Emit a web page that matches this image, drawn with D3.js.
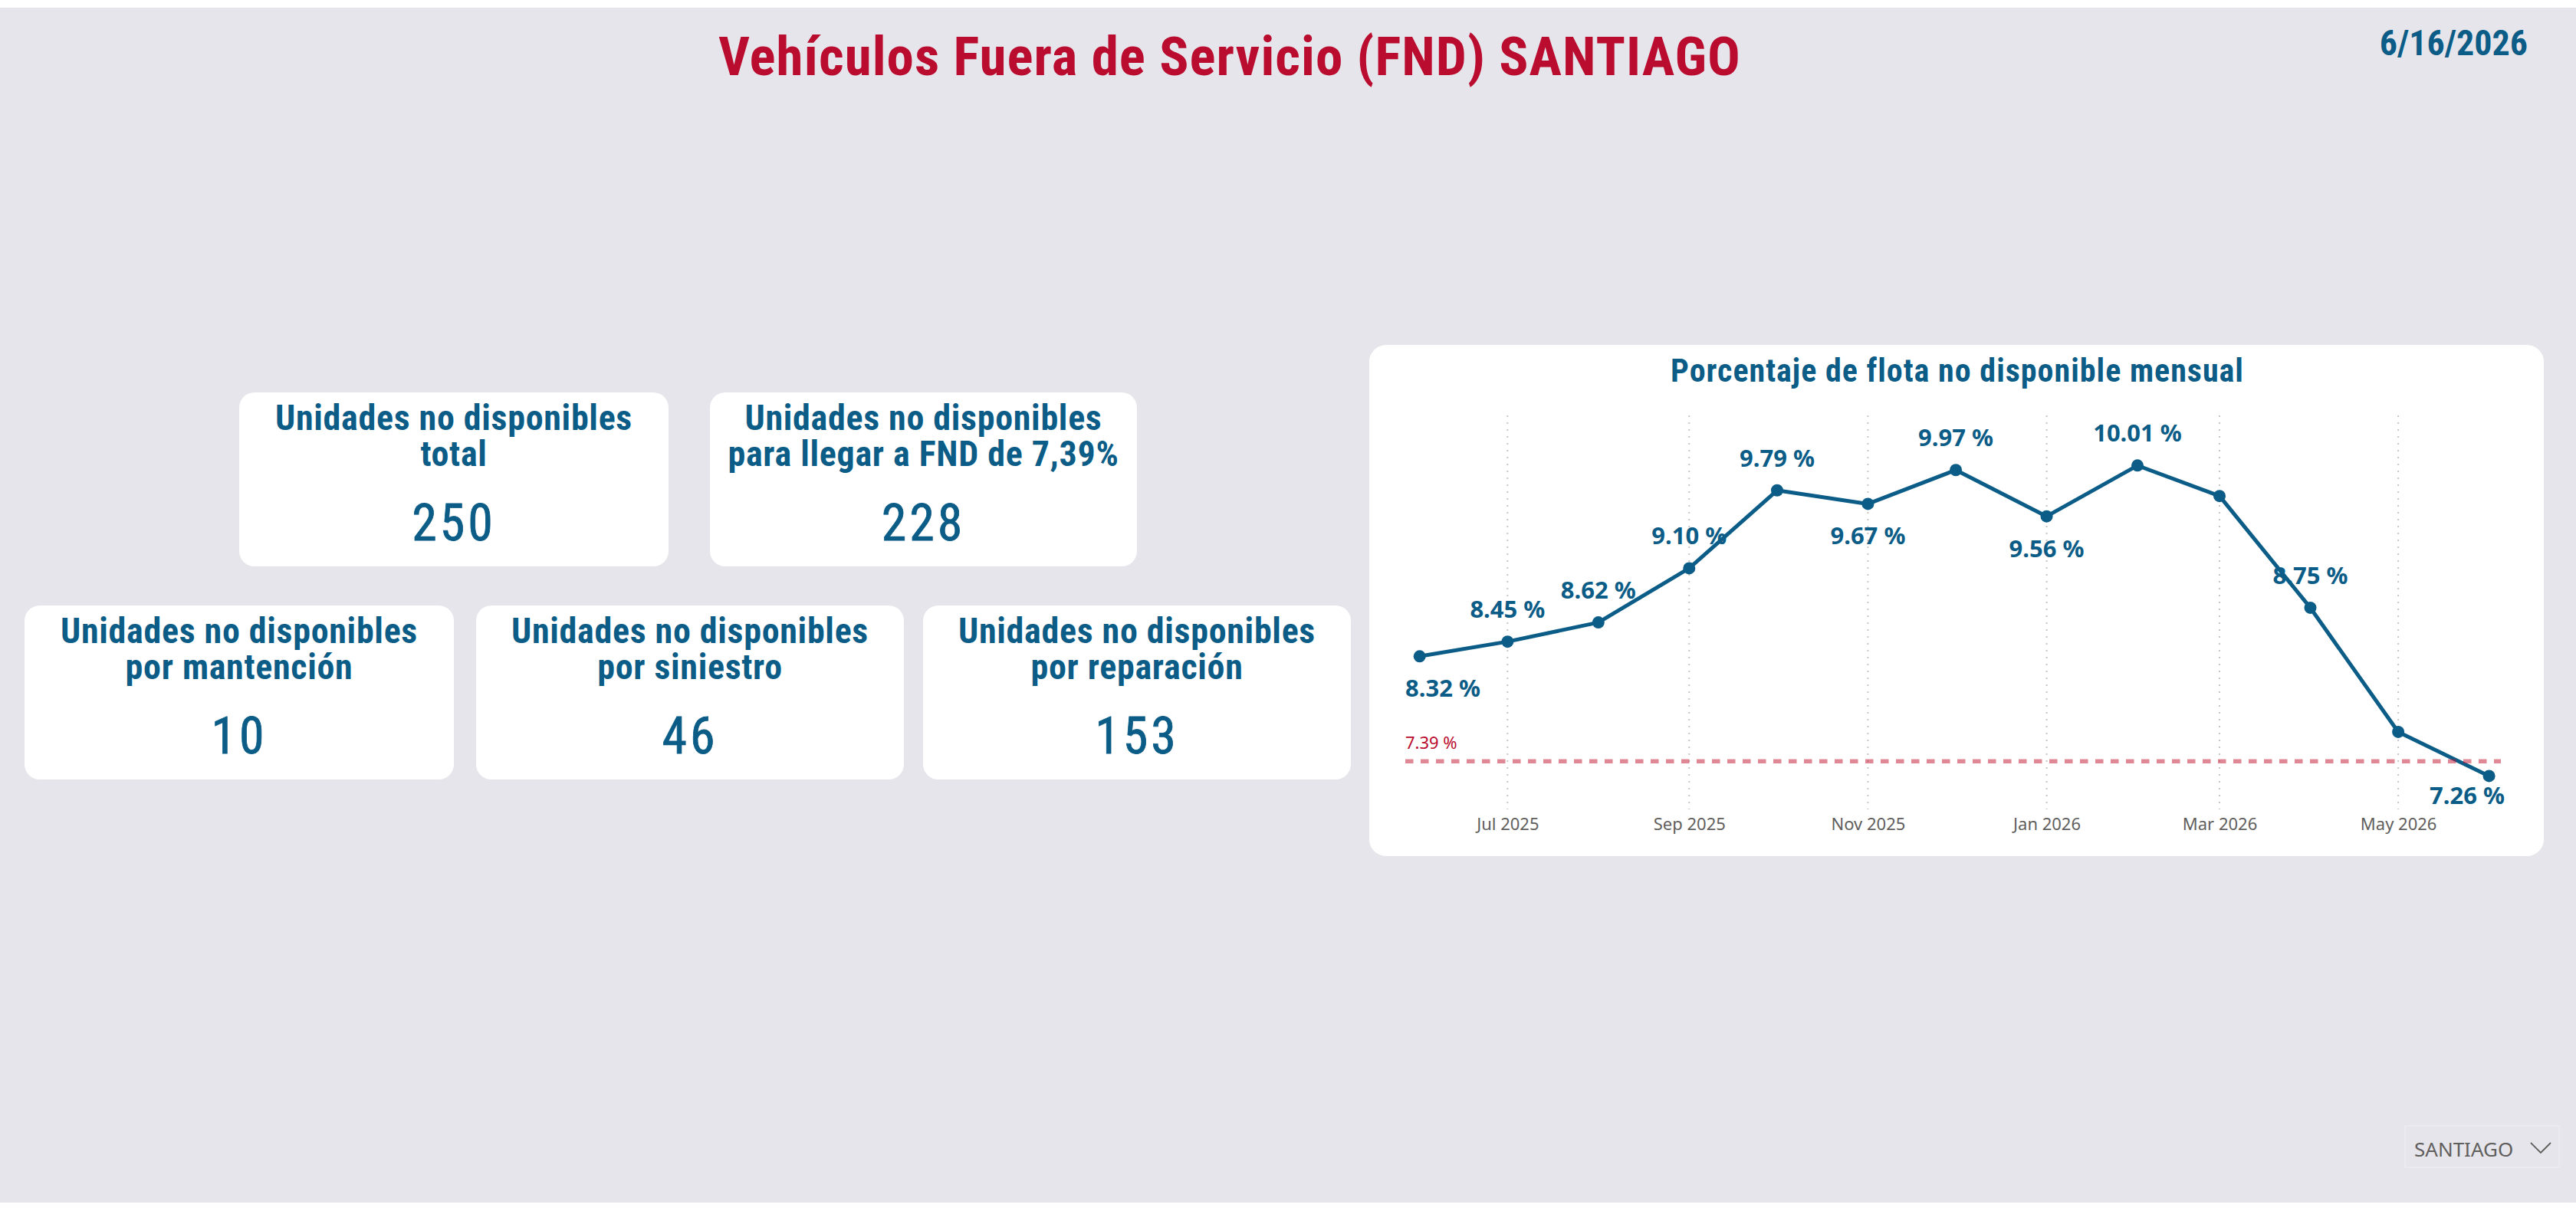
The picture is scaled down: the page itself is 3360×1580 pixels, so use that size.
<!DOCTYPE html>
<html>
<head>
<meta charset="utf-8">
<script src="https://cdn.jsdelivr.net/npm/d3@7"></script>
<style>
  body { margin: 0; background: #ffffff; }
</style>
</head>
<body>
<div id="page"></div>
<script>
// Data
var reportTitle = "Vehículos Fuera de Servicio (FND) SANTIAGO";
var reportDate = "6/16/2026";
var chartTitle = "Porcentaje de flota no disponible mensual";
var cityName = "SANTIAGO";

var cardLabels = [
  ["Unidades no disponibles", "total"],
  ["Unidades no disponibles", "para llegar a FND de 7,39%"],
  ["Unidades no disponibles", "por mantención"],
  ["Unidades no disponibles", "por siniestro"],
  ["Unidades no disponibles", "por reparación"]
];
var cardValues = [250, 228, 10, 46, 153];

var months = ["2025-06", "2025-07", "2025-08", "2025-09", "2025-10", "2025-11", "2025-12",
              "2026-01", "2026-02", "2026-03", "2026-04", "2026-05", "2026-06"];
var fndPct = [8.32, 8.45, 8.62, 9.10, 9.79, 9.67, 9.97, 9.56, 10.01, 9.74, 8.75, 7.65, 7.26];
var targetPct = 7.39;
var hiddenLabels = ["2026-03", "2026-05"];

// Colors and fonts
var blue = "#0b5c86";
var red = "#ba0c2f";
var grey = "#605e5c";
var dinFont = "'Liberation Sans Narrow', 'Roboto Condensed', 'DejaVu Sans Condensed', sans-serif";
var uiFont = "'Noto Sans', 'Open Sans', sans-serif";

//Width and height
var w = 3360;
var h = 1580;

var svg = d3.select("#page")
            .append("svg")
            .attr("width", w)
            .attr("height", h)
            .attr("viewBox", "0 0 " + w + " " + h);

// Page background
svg.append("rect")
   .attr("x", 0).attr("y", 10)
   .attr("width", w).attr("height", 1559)
   .style("fill", "#e6e5eb");

// Header
svg.append("text")
   .attr("x", 1604).attr("y", 98)
   .attr("text-anchor", "middle")
   .style("font-family", dinFont)
   .style("font-weight", "bold")
   .style("font-size", "71px")
   .style("letter-spacing", "1px")
   .style("fill", red)
   .text(reportTitle);

svg.append("text")
   .attr("x", 3297).attr("y", 72)
   .attr("text-anchor", "end")
   .style("font-family", dinFont)
   .style("font-weight", "bold")
   .style("font-size", "46px")
   .style("fill", blue)
   .text(reportDate);

// KPI cards
var cardBoxes = [
  {x: 312, y: 512, w: 560, h: 227},
  {x: 926, y: 512, w: 557, h: 227},
  {x: 32, y: 790, w: 560, h: 227},
  {x: 621, y: 790, w: 558, h: 227},
  {x: 1204, y: 790, w: 558, h: 227}
];

var cards = svg.append("g")
   .attr("class", "cards")
   .selectAll("g")
   .data(cardValues)
   .enter()
   .append("g")
   .attr("transform", function(d, i){ return "translate(" + cardBoxes[i].x + "," + cardBoxes[i].y + ")"; });

cards.append("rect")
   .attr("width", function(d, i){ return cardBoxes[i].w; })
   .attr("height", function(d, i){ return cardBoxes[i].h; })
   .attr("rx", 20)
   .style("fill", "#ffffff");

cards.each(function(d, i){
  var g = d3.select(this);
  var cx = cardBoxes[i].w / 2;
  cardLabels[i].forEach(function(line, j){
    g.append("text")
     .attr("x", cx).attr("y", 49 + j * 47)
     .attr("text-anchor", "middle")
     .style("font-family", dinFont)
     .style("font-weight", "bold")
     .style("font-size", "46px")
     .style("letter-spacing", "0.7px")
     .style("fill", blue)
     .text(line);
  });
  g.append("text")
   .attr("x", cx).attr("y", 193)
   .attr("text-anchor", "middle")
   .style("font-family", dinFont)
   .style("font-size", "66px")
   .style("letter-spacing", "4px")
   .style("fill", blue)
   .style("stroke", blue)
   .style("stroke-width", 0.8)
   .text(d);
});

// Line chart card
svg.append("rect")
   .attr("x", 1786).attr("y", 450)
   .attr("width", 1532).attr("height", 667)
   .attr("rx", 22)
   .style("fill", "#ffffff");

svg.append("text")
   .attr("x", 2553).attr("y", 498)
   .attr("text-anchor", "middle")
   .style("font-family", dinFont)
   .style("font-weight", "bold")
   .style("font-size", "42px")
   .style("letter-spacing", "1px")
   .style("fill", blue)
   .text(chartTitle);

var parseMonth = d3.timeParse("%Y-%m");
var chart_data = months.map(function(m, i){
  return {month: m, date: parseMonth(m), value: fndPct[i]};
});

var plotLeft = 1833, plotRight = 3267, plotTop = 542, plotBottom = 1056;

var x = d3.scaleTime()
          .domain([parseMonth(months[0]), parseMonth(months[months.length - 1])])
          .range([1851.7, 3246.6]);

var y = d3.scaleLinear()
          .domain([7, 10.5])
          .range([1050.7, 535.2]);

var tickDates = x.ticks(d3.timeMonth.every(2));

// Vertical gridlines
svg.append("g")
   .selectAll("line")
   .data(tickDates)
   .enter()
   .append("line")
   .attr("x1", function(d){ return x(d); })
   .attr("x2", function(d){ return x(d); })
   .attr("y1", plotTop)
   .attr("y2", plotBottom)
   .style("stroke", "#c8c6c4")
   .style("stroke-width", 2)
   .style("stroke-dasharray", "2,7");

// X axis
var xAxis = svg.append("g")
   .attr("transform", "translate(0,1067)")
   .call(d3.axisBottom(x)
           .tickValues(tickDates)
           .tickFormat(d3.timeFormat("%b %Y"))
           .tickSize(0)
           .tickPadding(0));
xAxis.select(".domain").remove();
xAxis.selectAll("text")
   .style("font-family", uiFont)
   .style("font-size", "22px")
   .style("fill", grey);

// Line and markers
var line = d3.line()
             .x(function(d){ return x(d.date); })
             .y(function(d){ return y(d.value); });

svg.append("path")
   .datum(chart_data)
   .attr("d", line)
   .style("fill", "none")
   .style("stroke", blue)
   .style("stroke-width", 5)
   .style("stroke-linejoin", "round");

svg.append("g")
   .selectAll("circle")
   .data(chart_data)
   .enter()
   .append("circle")
   .attr("cx", function(d){ return x(d.date); })
   .attr("cy", function(d){ return y(d.value); })
   .attr("r", 8)
   .style("fill", blue);

// Target line
svg.append("line")
   .attr("x1", plotLeft).attr("x2", 3262)
   .attr("y1", y(targetPct)).attr("y2", y(targetPct))
   .style("stroke", "#c41230")
   .style("stroke-opacity", 0.5)
   .style("stroke-width", 5.5)
   .style("stroke-dasharray", "10.5,9.5");

svg.append("text")
   .attr("x", plotLeft).attr("y", y(targetPct) - 16)
   .style("font-family", uiFont)
   .style("font-size", "22px")
   .style("fill", red)
   .text(d3.format(".2f")(targetPct) + " %");

// Data labels: below local minima, above otherwise
var labels = svg.append("g")
   .selectAll("text")
   .data(chart_data.filter(function(d){ return hiddenLabels.indexOf(d.month) < 0; }))
   .enter()
   .append("text")
   .attr("text-anchor", "middle")
   .style("font-family", uiFont)
   .style("font-weight", "bold")
   .style("font-size", "31px")
   .style("fill", blue)
   .text(function(d){ return d3.format(".2f")(d.value) + " %"; });

labels.each(function(d){
  var i = months.indexOf(d.month);
  var prev = i > 0 ? fndPct[i - 1] : Infinity;
  var next = i < fndPct.length - 1 ? fndPct[i + 1] : Infinity;
  var below = d.value < prev && d.value < next;
  var tw = this.getComputedTextLength();
  var tx = Math.max(plotLeft + tw / 2, Math.min(plotRight - tw / 2, x(d.date)));
  var ty = below ? Math.min(y(d.value) + 53, 1049) : y(d.value) - 31;
  d3.select(this).attr("x", tx).attr("y", ty);
});

// Slicer
svg.append("rect")
   .attr("x", 3137).attr("y", 1469)
   .attr("width", 201).attr("height", 54)
   .style("fill", "none")
   .style("stroke", "#ebeaef")
   .style("stroke-width", 2);

svg.append("text")
   .attr("x", 3149).attr("y", 1509)
   .style("font-family", uiFont)
   .style("font-size", "26px")
   .style("fill", grey)
   .text(cityName);

svg.append("path")
   .attr("d", "M3301,1491 L3314,1504 L3327,1491")
   .style("fill", "none")
   .style("stroke", grey)
   .style("stroke-width", 1.8);
</script>
</body>
</html>
